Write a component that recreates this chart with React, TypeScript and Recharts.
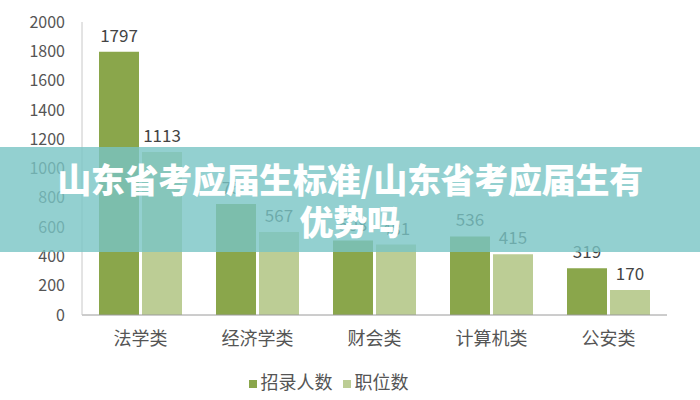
import React from "react"
import { Bar, BarChart, XAxis, YAxis, Legend, LabelList } from "recharts"

const categories = ["法学类", "经济学类", "财会类", "计算机类", "公安类"]
const hires = [1797, 757, 508, 536, 319]
const posts = [1113, 567, 481, 415, 170]
const yTicks = [0, 200, 400, 600, 800, 1000, 1200, 1400, 1600, 1800, 2000]

const data = categories.map((name, i) => ({ name, hires: hires[i], posts: posts[i] }))

const FONT = '"Noto Sans CJK SC", "Noto Sans", sans-serif'

export default function App() {
  return (
    <div style={{ position: "relative", width: 700, height: 400, background: "#fff", fontFamily: FONT }}>
      <style>{"body{margin:0}"}</style>
      <BarChart
        width={700}
        height={400}
        data={data}
        margin={{ top: 22, right: 33, left: 0, bottom: 6 }}
        barSize={40}
        barGap={3}
      >
        <XAxis
          dataKey="name"
          height={53}
          tickSize={0}
          tickMargin={17}
          axisLine={{ stroke: "#9a9a9a" }}
          tick={{ fill: "#555", fontSize: 18, fontFamily: FONT }}
        />
        <YAxis
          width={82}
          domain={[0, 2000]}
          ticks={yTicks}
          interval={0}
          tickSize={0}
          tickMargin={17}
          axisLine={{ stroke: "#c8c8c8" }}
          tick={{ fill: "#555", fontSize: 16, fontFamily: FONT }}
        />
        <Legend
          verticalAlign="bottom"
          iconType="square"
          iconSize={8}
          wrapperStyle={{ fontSize: 18, color: "#444", fontFamily: FONT }}
          formatter={(value) => <span style={{ color: "#555" }}>{value}</span>}
        />
        <Bar dataKey="hires" name="招录人数" fill="#8aa64b" isAnimationActive={false}>
          <LabelList dataKey="hires" position="top" offset={10} fill="#444" fontSize={17} fontFamily={FONT} />
        </Bar>
        <Bar dataKey="posts" name="职位数" fill="#bccd95" isAnimationActive={false}>
          <LabelList dataKey="posts" position="top" offset={10} fill="#444" fontSize={17} fontFamily={FONT} />
        </Bar>
      </BarChart>
      <div
        style={{
          position: "absolute",
          left: 0,
          top: 147,
          width: 700,
          height: 105,
          background: "rgba(120,196,196,0.8)",
          color: "#fff",
          fontWeight: 900,
          fontSize: 34,
          letterSpacing: -0.3,
          lineHeight: "42px",
          textAlign: "center",
          display: "flex",
          flexDirection: "column",
          justifyContent: "center",
        }}
      >
        <div>山东省考应届生标准/山东省考应届生有</div>
        <div>优势吗</div>
      </div>
    </div>
  )
}
